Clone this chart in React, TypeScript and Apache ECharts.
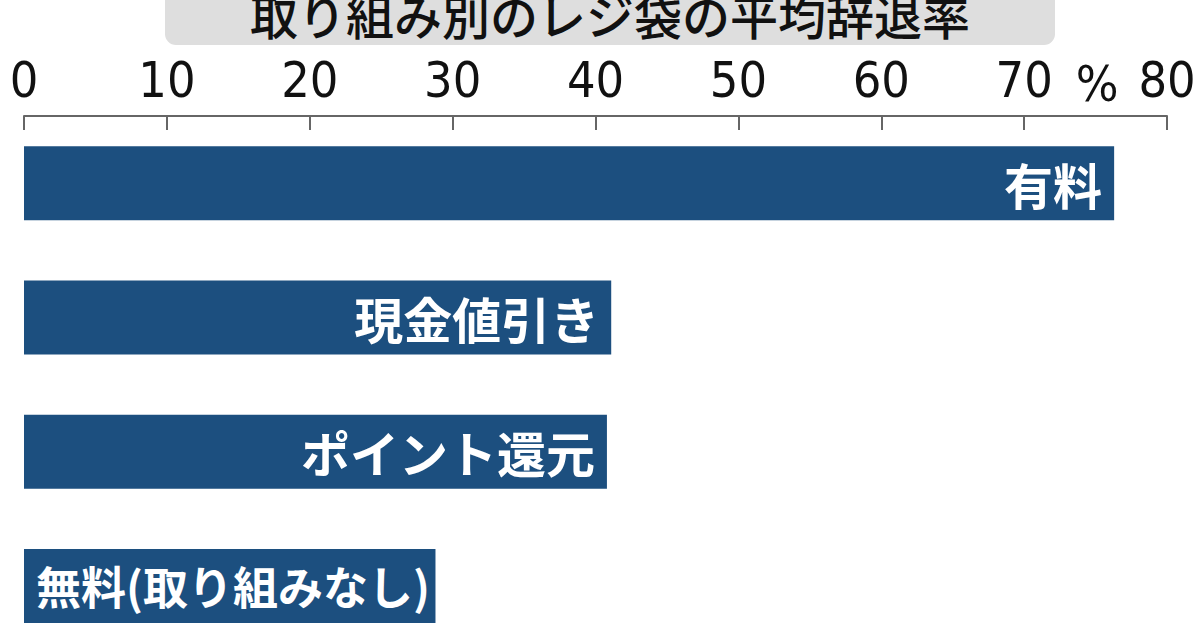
import { useEffect, useRef } from 'react';
import * as echarts from 'echarts';

// ─── Data ─────────────────────────────────────────────────────────────────────

const categories = ['有料', '現金値引き', 'ポイント還元', '無料(取り組みなし)'];
const rates = [76.3, 41.1, 40.8, 28.8];
const tickValues = [0, 10, 20, 30, 40, 50, 60, 70, 80];
const title = '取り組み別のレジ袋の平均辞退率';
const unitLabel = '%';

const NUM_FONT = '"Liberation Sans Narrow", "DejaVu Sans Condensed", "Arial Narrow", "Liberation Sans", sans-serif';
const JP_FONT = '"Noto Sans CJK JP", "Noto Sans", sans-serif';
const BAR_COLOR = '#1c4f7f';

// ─── Option builder ───────────────────────────────────────────────────────────

function buildOption(): echarts.EChartsOption {
  const axisMax = tickValues[tickValues.length - 1];
  const lastIndex = categories.length - 1;
  return {
    animation: false,
    backgroundColor: '#ffffff',
    grid: { left: 24, right: 33, top: 116, height: 537, containLabel: false },
    xAxis: {
      type: 'value',
      position: 'top',
      min: tickValues[0],
      max: axisMax,
      interval: tickValues[1] - tickValues[0],
      axisLine: { show: true, lineStyle: { color: '#666', width: 2 } },
      axisTick: { show: true, inside: true, length: 14, lineStyle: { color: '#666', width: 2 } },
      axisLabel: {
        color: '#111',
        fontFamily: NUM_FONT,
        fontSize: 50,
        margin: 11,
        formatter: (v: number) => (tickValues.includes(v) ? String(v) : ''),
      },
      splitLine: { show: false },
    },
    yAxis: {
      type: 'category',
      inverse: true,
      data: categories,
      axisLine: { show: false },
      axisTick: { show: false },
      axisLabel: { show: false },
    },
    series: [
      {
        type: 'bar',
        // the longest name starts at the bar's base, the others end at its tip
        data: rates.map((v, i) =>
          i === lastIndex
            ? {
                value: v,
                label: { position: 'insideLeft', distance: 12, fontSize: 45, overflow: 'none' },
              }
            : { value: v },
        ),
        barWidth: 74,
        itemStyle: { color: BAR_COLOR },
        label: {
          show: true,
          position: 'insideRight',
          distance: 12,
          formatter: (p: { name: string }) => p.name,
          color: '#ffffff',
          fontFamily: JP_FONT,
          fontWeight: 'bold',
          fontSize: 49,
        },
      },
    ],
    graphic: [
      {
        type: 'rect',
        shape: { x: 165, y: -20, width: 890, height: 65, r: 11 },
        style: { fill: '#dedede' },
        z: 0,
      },
      {
        type: 'text',
        x: 610,
        y: 14,
        style: {
          text: title,
          fill: '#111',
          font: `500 48px ${JP_FONT}`,
          align: 'center',
          verticalAlign: 'middle',
        },
        z: 1,
      },
      {
        type: 'text',
        x: 1097,
        y: 84,
        style: {
          text: unitLabel,
          fill: '#111',
          font: `50px ${NUM_FONT}`,
          align: 'center',
          verticalAlign: 'middle',
        },
      },
    ],
  };
}

// ─── Chart ────────────────────────────────────────────────────────────────────

export default function App() {
  const containerRef = useRef<HTMLDivElement>(null);

  useEffect(() => {
    if (!containerRef.current) return;
    document.body.style.margin = '0';
    const chart = echarts.init(containerRef.current, null, { renderer: 'svg' });
    chart.setOption(buildOption());
    return () => chart.dispose();
  }, []);

  return (
    <div
      ref={containerRef}
      style={{ position: 'fixed', left: 0, top: 0, width: 1200, height: 680, background: '#fff' }}
    />
  );
}
